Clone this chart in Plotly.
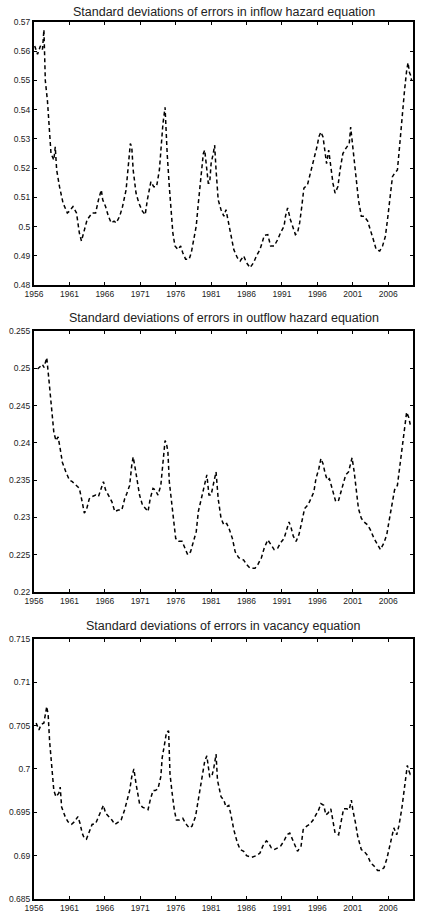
import plotly.graph_objects as go

# ---------------- data ----------------
inflow_year = [1956.1, 1956.5, 1956.9, 1957.2, 1957.4, 1957.6, 1957.9, 1958.1, 1958.4, 1958.8,
               1959.0, 1959.2, 1959.6, 1960.1, 1960.7, 1961.0, 1961.5, 1962.0, 1962.4, 1962.7,
               1963.1, 1963.5, 1964.2, 1964.7, 1965.1, 1965.5, 1965.7, 1966.1, 1966.5, 1966.9,
               1967.3, 1967.6, 1968.1, 1968.5, 1969.0, 1969.3, 1969.6, 1969.8, 1970.0, 1970.4,
               1970.8, 1971.3, 1971.7, 1972.0, 1972.5, 1972.9, 1973.3, 1973.7, 1974.0, 1974.2,
               1974.5, 1974.6, 1974.8, 1975.1, 1975.4, 1975.6, 1975.9, 1976.3, 1976.7, 1977.0,
               1977.4, 1977.9, 1978.2, 1978.5, 1978.9, 1979.2, 1979.6, 1979.9, 1980.1, 1980.4,
               1980.6, 1980.8, 1981.0, 1981.3, 1981.5, 1981.7, 1982.0, 1982.4, 1982.8, 1983.1,
               1983.4, 1983.8, 1984.2, 1984.7, 1985.1, 1985.6, 1986.0, 1986.5, 1987.0, 1987.4,
               1987.9, 1988.2, 1988.5, 1989.0, 1989.4, 1989.9, 1990.4, 1990.8, 1991.3, 1991.5,
               1991.8, 1992.2, 1992.5, 1992.9, 1993.2, 1993.5, 1993.8, 1994.1, 1994.6, 1994.9,
               1995.2, 1995.6, 1996.0, 1996.2, 1996.5, 1996.8, 1997.0, 1997.3, 1997.6, 1997.9,
               1998.2, 1998.5, 1998.9, 1999.2, 1999.6, 2000.0, 2000.5, 2000.7, 2000.9, 2001.2,
               2001.5, 2001.8, 2002.2, 2002.6, 2003.1, 2003.5, 2003.9, 2004.3, 2004.8, 2005.2,
               2005.6, 2005.9, 2006.3, 2006.6, 2006.9, 2007.3, 2007.6, 2007.9, 2008.3, 2008.6,
               2008.8, 2009.0, 2009.2, 2009.3]
inflow_sd = [0.5618, 0.5590, 0.5618, 0.5606, 0.5674, 0.5499, 0.5430, 0.5363, 0.5250, 0.5228,
             0.5273, 0.5194, 0.5137, 0.5081, 0.5047, 0.5053, 0.5069, 0.5047, 0.4979, 0.4951,
             0.4990, 0.5024, 0.5047, 0.5047, 0.5092, 0.5126, 0.5092, 0.5069, 0.5036, 0.5013,
             0.5019, 0.5013, 0.5036, 0.5069, 0.5126, 0.5194, 0.5284, 0.5273, 0.5194, 0.5115,
             0.5081, 0.5053, 0.5041, 0.5092, 0.5154, 0.5137, 0.5137, 0.5194, 0.5296, 0.5352,
             0.5408, 0.5352, 0.5250, 0.5137, 0.5047, 0.4979, 0.4934, 0.4922, 0.4934, 0.4911,
             0.4889, 0.4889, 0.4911, 0.4956, 0.5002, 0.5081, 0.5183, 0.5250, 0.5262, 0.5205,
             0.5149, 0.5149, 0.5216, 0.5250, 0.5279, 0.5194, 0.5092, 0.5058, 0.5036, 0.5058,
             0.5024, 0.4967, 0.4922, 0.4894, 0.4883, 0.4900, 0.4877, 0.4860, 0.4877, 0.4900,
             0.4922, 0.4945, 0.4970, 0.4973, 0.4934, 0.4934, 0.4956, 0.4979, 0.5002, 0.5036,
             0.5064, 0.5024, 0.5002, 0.4973, 0.4979, 0.5013, 0.5069, 0.5132, 0.5143, 0.5171,
             0.5205, 0.5239, 0.5279, 0.5307, 0.5324, 0.5307, 0.5262, 0.5216, 0.5262, 0.5205,
             0.5149, 0.5115, 0.5137, 0.5194, 0.5250, 0.5267, 0.5284, 0.5341, 0.5296, 0.5228,
             0.5160, 0.5092, 0.5036, 0.5036, 0.5019, 0.4990, 0.4956, 0.4922, 0.4917, 0.4934,
             0.4967, 0.5024, 0.5103, 0.5171, 0.5183, 0.5194, 0.5273, 0.5363, 0.5465, 0.5533,
             0.5561, 0.5527, 0.5516, 0.5499]

outflow_year = [1956.5, 1956.9, 1957.2, 1957.4, 1957.8, 1958.1, 1958.4, 1958.8, 1959.1, 1959.4,
                1959.7, 1960.0, 1960.5, 1961.0, 1961.4, 1961.9, 1962.4, 1962.8, 1963.1, 1963.4,
                1963.8, 1964.2, 1964.7, 1965.1, 1965.5, 1965.8, 1966.1, 1966.6, 1967.0, 1967.4,
                1967.9, 1968.4, 1968.8, 1969.1, 1969.5, 1969.8, 1970.0, 1970.3, 1970.6, 1970.9,
                1971.3, 1971.7, 1972.1, 1972.4, 1972.8, 1973.1, 1973.5, 1973.9, 1974.2, 1974.5,
                1974.7, 1974.9, 1975.1, 1975.5, 1975.7, 1976.0, 1976.4, 1976.9, 1977.3, 1977.7,
                1978.1, 1978.5, 1978.9, 1979.2, 1979.7, 1980.0, 1980.4, 1980.7, 1981.0, 1981.4,
                1981.7, 1982.0, 1982.4, 1982.8, 1983.2, 1983.5, 1984.0, 1984.4, 1984.9, 1985.6,
                1986.0, 1986.5, 1987.2, 1987.6, 1988.1, 1988.5, 1989.0, 1989.5, 1989.9, 1990.4,
                1990.8, 1991.3, 1991.6, 1992.0, 1992.3, 1992.6, 1993.0, 1993.4, 1993.8, 1994.2,
                1994.7, 1995.1, 1995.5, 1995.8, 1996.2, 1996.5, 1996.8, 1997.1, 1997.4, 1997.7,
                1998.0, 1998.3, 1998.6, 1999.0, 1999.3, 1999.7, 2000.0, 2000.4, 2000.7, 2000.9,
                2001.2, 2001.5, 2001.8, 2002.2, 2002.6, 2003.1, 2003.5, 2004.0, 2004.5, 2004.9,
                2005.4, 2005.8, 2006.1, 2006.5, 2006.9, 2007.3, 2007.6, 2007.9, 2008.3, 2008.6,
                2008.9, 2009.1, 2009.3]
outflow_sd = [0.2499, 0.2503, 0.2505, 0.2501, 0.2514, 0.2485, 0.2450, 0.2414, 0.2403, 0.2408,
              0.2392, 0.2374, 0.2361, 0.2350, 0.2348, 0.2343, 0.2339, 0.2321, 0.2306, 0.2310,
              0.2325, 0.2328, 0.2330, 0.2328, 0.2339, 0.2348, 0.2337, 0.2328, 0.2321, 0.2308,
              0.2310, 0.2310, 0.2325, 0.2332, 0.2343, 0.2370, 0.2381, 0.2365, 0.2348, 0.2330,
              0.2317, 0.2312, 0.2308, 0.2325, 0.2339, 0.2337, 0.2330, 0.2343, 0.2374, 0.2403,
              0.2399, 0.2388, 0.2348, 0.2317, 0.2294, 0.2272, 0.2268, 0.2268, 0.2259, 0.2250,
              0.2254, 0.2268, 0.2281, 0.2308, 0.2330, 0.2343, 0.2357, 0.2330, 0.2330, 0.2348,
              0.2361, 0.2325, 0.2299, 0.2290, 0.2292, 0.2286, 0.2272, 0.2254, 0.2246, 0.2243,
              0.2237, 0.2232, 0.2232, 0.2237, 0.2246, 0.2259, 0.2270, 0.2263, 0.2257, 0.2259,
              0.2266, 0.2272, 0.2283, 0.2294, 0.2286, 0.2275, 0.2268, 0.2277, 0.2294, 0.2312,
              0.2317, 0.2325, 0.2334, 0.2352, 0.2365, 0.2379, 0.2372, 0.2359, 0.2350, 0.2352,
              0.2341, 0.2330, 0.2321, 0.2323, 0.2334, 0.2348, 0.2357, 0.2361, 0.2374, 0.2380,
              0.2361, 0.2334, 0.2312, 0.2299, 0.2294, 0.2290, 0.2283, 0.2272, 0.2263, 0.2257,
              0.2266, 0.2277, 0.2294, 0.2317, 0.2337, 0.2343, 0.2365, 0.2392, 0.2423, 0.2441,
              0.2434, 0.2425, 0.2423]

vacancy_year = [1956.3, 1956.7, 1957.0, 1957.4, 1957.8, 1958.0, 1958.2, 1958.5, 1958.8, 1959.1,
                1959.5, 1959.7, 1959.9, 1960.4, 1960.8, 1961.3, 1961.7, 1962.2, 1962.5, 1962.8,
                1963.1, 1963.4, 1963.8, 1964.2, 1964.7, 1965.1, 1965.5, 1965.8, 1966.1, 1966.6,
                1967.0, 1967.4, 1967.9, 1968.3, 1968.8, 1969.1, 1969.5, 1969.8, 1970.1, 1970.4,
                1970.6, 1970.9, 1971.3, 1971.7, 1972.1, 1972.4, 1972.8, 1973.1, 1973.5, 1973.9,
                1974.1, 1974.5, 1974.7, 1975.0, 1975.2, 1975.5, 1975.8, 1976.1, 1976.5, 1977.0,
                1977.4, 1977.9, 1978.3, 1978.8, 1979.1, 1979.5, 1979.8, 1980.1, 1980.4, 1980.6,
                1980.8, 1981.1, 1981.4, 1981.7, 1981.9, 1982.4, 1982.8, 1983.1, 1983.5, 1983.8,
                1984.2, 1984.7, 1985.1, 1985.6, 1986.0, 1986.7, 1987.4, 1987.9, 1988.3, 1988.8,
                1989.1, 1989.5, 1989.9, 1990.4, 1990.8, 1991.3, 1991.7, 1992.1, 1992.4, 1992.8,
                1993.2, 1993.7, 1994.0, 1994.5, 1994.9, 1995.4, 1995.8, 1996.2, 1996.5, 1996.9,
                1997.2, 1997.5, 1997.9, 1998.2, 1998.5, 1999.0, 1999.3, 1999.7, 2000.1, 2000.5,
                2000.8, 2001.0, 2001.4, 2001.7, 2002.2, 2002.6, 2003.1, 2003.5, 2004.0, 2004.5,
                2004.9, 2005.4, 2005.8, 2006.1, 2006.5, 2006.8, 2007.2, 2007.5, 2007.9, 2008.2,
                2008.5, 2008.7, 2008.9, 2009.1, 2009.3]
vacancy_sd = [0.7053, 0.7045, 0.7051, 0.7053, 0.7072, 0.7062, 0.7032, 0.7002, 0.6975, 0.6968,
              0.6972, 0.6979, 0.6956, 0.6945, 0.6939, 0.6936, 0.6939, 0.6945, 0.6937, 0.6926,
              0.6920, 0.6919, 0.6928, 0.6936, 0.6937, 0.6945, 0.6954, 0.6958, 0.6949, 0.6945,
              0.6941, 0.6936, 0.6939, 0.6941, 0.6953, 0.6964, 0.6975, 0.6991, 0.7000, 0.6983,
              0.6972, 0.6960, 0.6956, 0.6954, 0.6953, 0.6964, 0.6975, 0.6975, 0.6977, 0.6991,
              0.7013, 0.7032, 0.7042, 0.7044, 0.6994, 0.6972, 0.6953, 0.6941, 0.6941, 0.6943,
              0.6937, 0.6932, 0.6934, 0.6945, 0.6960, 0.6979, 0.6994, 0.7009, 0.7015, 0.7002,
              0.6991, 0.6991, 0.7002, 0.7017, 0.6987, 0.6968, 0.6964, 0.6956, 0.6958, 0.6947,
              0.6930, 0.6915, 0.6907, 0.6905, 0.6900, 0.6898, 0.6900, 0.6903, 0.6911, 0.6917,
              0.6915, 0.6909, 0.6907, 0.6909, 0.6911, 0.6917, 0.6924, 0.6926, 0.6920, 0.6911,
              0.6905, 0.6911, 0.6930, 0.6934, 0.6936, 0.6941, 0.6947, 0.6953, 0.6960, 0.6958,
              0.6947, 0.6949, 0.6954, 0.6939, 0.6926, 0.6924, 0.6937, 0.6954, 0.6954, 0.6953,
              0.6964, 0.6953, 0.6937, 0.6922, 0.6907, 0.6905, 0.6900, 0.6892, 0.6888, 0.6883,
              0.6883, 0.6886, 0.6896, 0.6907, 0.6920, 0.6932, 0.6924, 0.6934, 0.6953, 0.6975,
              0.6994, 0.7004, 0.6998, 0.6994, 0.6996]

titles = ["Standard deviations of errors in inflow hazard equation",
          "Standard deviations of errors in outflow hazard equation",
          "Standard deviations of errors in vacancy equation"]

x_ticks = [1956, 1961, 1966, 1971, 1976, 1981, 1986, 1991, 1996, 2001, 2006]
y1_ticks = [0.48, 0.49, 0.50, 0.51, 0.52, 0.53, 0.54, 0.55, 0.56, 0.57]
y1_labels = ["0.48", "0.49", "0.5", "0.51", "0.52", "0.53", "0.54", "0.55", "0.56", "0.57"]
y2_ticks = [0.22, 0.225, 0.23, 0.235, 0.24, 0.245, 0.25, 0.255]
y2_labels = ["0.22", "0.225", "0.23", "0.235", "0.24", "0.245", "0.25", "0.255"]
y3_ticks = [0.685, 0.69, 0.695, 0.70, 0.705, 0.71, 0.715]
y3_labels = ["0.685", "0.69", "0.695", "0.7", "0.705", "0.71", "0.715"]

# ---------------- figure ----------------
W, H = 424, 922
ML, MR, MT, MB = 23, 9, 22, 17
ph = H - MT - MB


def ydom(top_px, bot_px):
    return [1 - (bot_px - MT) / ph, 1 - (top_px - MT) / ph]


def ypaper(px):
    return 1 - (px - MT) / ph


fig = go.Figure()
series = [(inflow_year, inflow_sd), (outflow_year, outflow_sd), (vacancy_year, vacancy_sd)]
doms = [ydom(22, 287), ydom(333, 596), ydom(643, 905)]
yranges = [[0.48, 0.57], [0.22, 0.255], [0.685, 0.715]]
yticks = [(y1_ticks, y1_labels), (y2_ticks, y2_labels), (y3_ticks, y3_labels)]
title_px = [12, 320, 630]

tickfont = dict(family="Liberation Sans, Arial, sans-serif", size=8.5, color="#222")
for i, (xs, ys) in enumerate(series):
    n = "" if i == 0 else str(i + 1)
    fig.add_trace(go.Scatter(x=xs, y=ys, mode="lines", xaxis="x" + n, yaxis="y" + n,
                             line=dict(color="black", width=1.5, dash="4px,3px"),
                             showlegend=False, hoverinfo="skip"))
    fig.layout["xaxis" + n] = dict(
        domain=[0, 1], anchor="y" + n, range=[1956, 2009.5],
        tickmode="array", tickvals=x_ticks, ticktext=[str(t) for t in x_ticks],
        ticks="inside", ticklen=3, tickwidth=1, tickcolor="black",
        showline=True, linecolor="black", linewidth=2, mirror="ticks",
        showgrid=False, zeroline=False, tickfont=tickfont)
    tv, tt = yticks[i]
    fig.layout["yaxis" + n] = dict(
        domain=doms[i], anchor="x" + n, range=yranges[i],
        tickmode="array", tickvals=tv, ticktext=tt,
        ticks="inside", ticklen=3, tickwidth=1, tickcolor="black",
        showline=True, linecolor="black", linewidth=2, mirror="ticks",
        showgrid=False, zeroline=False, tickfont=tickfont)
    fig.add_annotation(text=titles[i], x=0.5, y=ypaper(title_px[i]), xref="paper", yref="paper",
                       showarrow=False, xanchor="center", yanchor="middle",
                       font=dict(family="Liberation Sans, Arial, sans-serif", size=12.5, color="#222"))

fig.update_layout(width=W, height=H, margin=dict(l=ML, r=MR, t=MT, b=MB),
                  paper_bgcolor="white", plot_bgcolor="white")

fig.write_html("out.html")
